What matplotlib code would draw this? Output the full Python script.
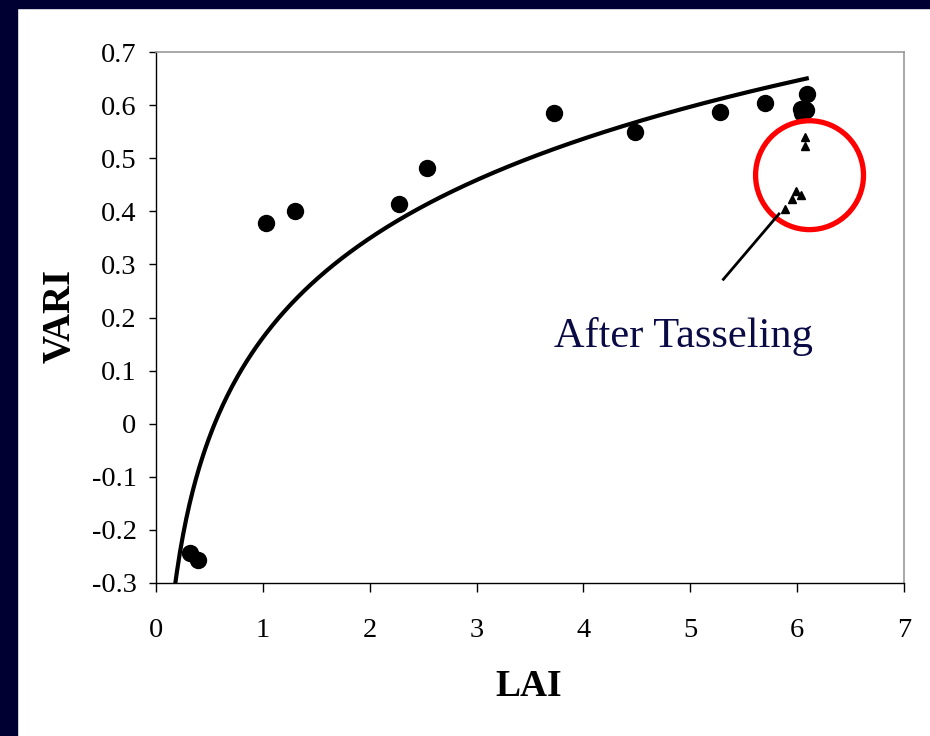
import matplotlib.pyplot as plt
import numpy as np
from matplotlib.patches import Ellipse, Rectangle

# circles: LAI vs VARI before tasseling
lai = [0.32, 0.39, 1.03, 1.30, 2.27, 2.54, 3.72, 4.48, 5.28, 5.70, 6.09, 6.04, 6.08, 6.05]
vari = [-0.244, -0.256, 0.378, 0.400, 0.414, 0.481, 0.585, 0.549, 0.587, 0.604, 0.621, 0.592, 0.590, 0.585]

# triangles: after tasseling
lai_tas = [6.07, 6.07, 5.99, 6.04, 5.95, 5.89]
vari_tas = [0.540, 0.523, 0.438, 0.431, 0.423, 0.404]

x_ticks = [0, 1, 2, 3, 4, 5, 6, 7]
y_ticks = [-0.3, -0.2, -0.1, 0, 0.1, 0.2, 0.3, 0.4, 0.5, 0.6, 0.7]

if __name__ == '__main__':
    plt.rcParams['font.family'] = ['Liberation Serif', 'DejaVu Serif']

    fig = plt.figure(figsize=(9.3, 7.36), dpi=100)
    fig.patch.set_facecolor('white')
    # dark navy slide border (top and left)
    fig.patches.append(Rectangle((0, 1 - 8 / 736), 1, 8 / 736, transform=fig.transFigure,
                                 color='#000033', zorder=0))
    fig.patches.append(Rectangle((0, 0), 17 / 930, 1, transform=fig.transFigure,
                                 color='#000033', zorder=0))

    ax = fig.add_axes([156 / 930, 1 - 583 / 736, 748 / 930, 531 / 736])

    # Logarithmic trendline fitted on the circles
    a, b = np.polyfit(np.log(lai), vari, 1)
    xs = np.linspace(0.15, max(lai), 400)
    ax.plot(xs, a * np.log(xs) + b, color='black', lw=3, zorder=2)

    ax.plot(lai, vari, 'o', color='black', ms=11.5, zorder=3)
    ax.plot(lai_tas, vari_tas, '^', color='black', ms=6, zorder=3)

    # red circle around after-tasseling points
    ax.add_patch(Ellipse((6.116, 0.468), 1.01, 0.205, fill=False, ec='#ff0000', lw=3.8, zorder=4))
    ax.plot([5.31, 5.83], [0.272, 0.395], color='black', lw=2, zorder=4)
    ax.text(4.94, 0.144, 'After Tasseling', ha='center', va='baseline',
            fontsize=30.5, color='#0a0a45')

    ax.set_xlim(0, 7)
    ax.set_ylim(-0.3, 0.7)
    ax.set_xticks(x_ticks)
    ax.set_yticks(y_ticks)
    ax.set_yticklabels(['%g' % v for v in y_ticks])
    ax.tick_params(axis='y', direction='out', length=5, width=1, pad=9, labelsize=20.5)
    ax.tick_params(axis='x', direction='out', length=6.5, width=1, pad=19, labelsize=20.5)

    for s in ['left', 'bottom']:
        ax.spines[s].set_color('black')
        ax.spines[s].set_linewidth(1)
    for s in ['top', 'right']:
        ax.spines[s].set_color('#999999')
        ax.spines[s].set_linewidth(1.2)

    fig.text(60 / 930, 1 - 316 / 736, 'VARI', rotation=90, ha='center', va='center',
             fontsize=28, fontweight='bold')
    fig.text(529 / 930, 1 - 687 / 736, 'LAI', ha='center', va='center',
             fontsize=27, fontweight='bold')

    fig.savefig('out.png', dpi=100)
